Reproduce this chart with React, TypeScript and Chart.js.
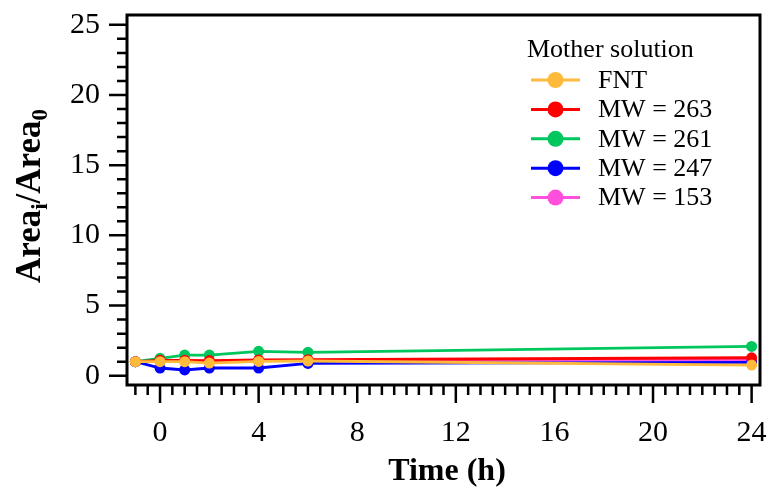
import React, { useEffect, useRef } from "react";
import { Chart, registerables } from "chart.js";

Chart.register(...registerables);

const timeH = [-1, 0, 1, 2, 4, 6, 24];
const seriesNames = ["FNT", "MW = 263", "MW = 261", "MW = 247", "MW = 153"];
const seriesColors = ["#FFBA3B", "#FF0000", "#00C65E", "#0000FF", "#FF4FDC"];
const fnt = [1.0, 1.0, 1.0, 0.9, 1.02, 1.05, 0.76];
const mw263 = [1.0, 1.1, 1.1, 1.08, 1.12, 1.14, 1.28];
const mw261 = [1.0, 1.24, 1.47, 1.47, 1.74, 1.67, 2.09];
const mw247 = [1.0, 0.55, 0.41, 0.55, 0.55, 0.88, 0.95];
const mw153 = [1.0, 1.06, 1.05, 1.02, 1.07, 1.1, 1.12];
const seriesValues = [fnt, mw263, mw261, mw247, mw153];

const xMajorTicks = [0, 4, 8, 12, 16, 20, 24];
const xMinorTicks = [-1, -0.5, 0.5, 1, 1.5, 2, 2.5, 3, 3.5, 4.5, 5, 5.5, 6, 6.5, 7, 7.5, 8.5, 9, 9.5, 10, 10.5, 11, 11.5, 12.5, 13, 13.5, 14, 14.5, 15, 15.5, 16.5, 17, 17.5, 18, 18.5, 19, 19.5, 20.5, 21, 21.5, 22, 22.5, 23, 23.5];
const yMajorTicks = [0, 5, 10, 15, 20, 25];
const yMinorTicks = [1, 2, 3, 4, 6, 7, 8, 9, 11, 12, 13, 14, 16, 17, 18, 19, 21, 22, 23, 24];

const legendTitle = "Mother solution";
const xTitle = "Time (h)";

const SERIF = "'Liberation Serif', 'Times New Roman', serif";

const decorPlugin = {
  id: "decor",
  afterDraw(chart: any) {
    const ctx = chart.ctx;
    const { left, right, top, bottom } = chart.chartArea;
    const xs = chart.scales.x;
    const ys = chart.scales.y;
    ctx.save();
    ctx.strokeStyle = "#000";
    ctx.lineWidth = 3;
    ctx.strokeRect(left, top, right - left, bottom - top);
    ctx.lineWidth = 2.5;
    ctx.beginPath();
    for (const v of xMajorTicks) {
      const px = xs.getPixelForValue(v);
      ctx.moveTo(px, bottom);
      ctx.lineTo(px, bottom + 18);
    }
    for (const v of xMinorTicks) {
      const px = xs.getPixelForValue(v);
      ctx.moveTo(px, bottom);
      ctx.lineTo(px, bottom + 10);
    }
    for (const v of yMajorTicks) {
      const py = ys.getPixelForValue(v);
      ctx.moveTo(left, py);
      ctx.lineTo(left - 18, py);
    }
    for (const v of yMinorTicks) {
      const py = ys.getPixelForValue(v);
      ctx.moveTo(left, py);
      ctx.lineTo(left - 10, py);
    }
    ctx.stroke();

    // x title
    ctx.fillStyle = "#000";
    ctx.font = `bold 32px ${SERIF}`;
    ctx.textAlign = "center";
    ctx.textBaseline = "middle";
    ctx.fillText(xTitle, 447, 472);

    // y title with subscripts
    const big = `bold 35px ${SERIF}`;
    const small = `bold 23px ${SERIF}`;
    const parts: [string, string, number][] = [
      ["Area", big, 0],
      ["i", small, 7],
      ["/Area", big, 0],
      ["0", small, 7],
    ];
    let total = 0;
    for (const [t, f] of parts) {
      ctx.font = f;
      total += ctx.measureText(t).width;
    }
    ctx.translate(40, 196);
    ctx.rotate(-Math.PI / 2);
    ctx.textAlign = "left";
    ctx.textBaseline = "alphabetic";
    let cx = -total / 2;
    for (const [t, f, dy] of parts) {
      ctx.font = f;
      ctx.fillText(t, cx, dy);
      cx += ctx.measureText(t).width;
    }
    ctx.setTransform(1, 0, 0, 1, 0, 0);

    // legend
    ctx.font = `26px ${SERIF}`;
    ctx.textAlign = "left";
    ctx.textBaseline = "middle";
    ctx.fillText(legendTitle, 527, 50);
    seriesNames.forEach((name, i) => {
      const y = 80 + i * 29.4;
      ctx.strokeStyle = seriesColors[i];
      ctx.lineWidth = 3;
      ctx.beginPath();
      ctx.moveTo(531, y);
      ctx.lineTo(580, y);
      ctx.stroke();
      ctx.fillStyle = seriesColors[i];
      ctx.beginPath();
      ctx.arc(555.5, y, 8, 0, Math.PI * 2);
      ctx.fill();
      ctx.fillStyle = "#000";
      ctx.fillText(name, 598, y + 1);
    });
    ctx.restore();
  },
};

export default function App() {
  const canvasRef = useRef<HTMLCanvasElement | null>(null);
  useEffect(() => {
    document.body.style.margin = "0";
    const canvas = canvasRef.current;
    if (!canvas) return;
    const zeroPad = (s: any) => {
      s.paddingTop = 0;
      s.paddingBottom = 0;
      s.paddingLeft = 0;
      s.paddingRight = 0;
    };
    const chart = new Chart(canvas, {
      type: "line",
      data: {
        datasets: seriesNames.map((name, i) => ({
          label: name,
          data: timeH.map((t, j) => ({ x: t, y: seriesValues[i][j] })),
          borderColor: seriesColors[i],
          backgroundColor: seriesColors[i],
          pointBackgroundColor: seriesColors[i],
          pointBorderColor: seriesColors[i],
          borderWidth: 2.8,
          pointRadius: 5.5,
          pointBorderWidth: 0,
          tension: 0,
          fill: false,
        })),
      },
      options: {
        animation: false,
        responsive: false,
        maintainAspectRatio: false,
        layout: { padding: { top: 15, right: 10, left: 0, bottom: 0 } },
        plugins: { legend: { display: false }, tooltip: { enabled: false } },
        scales: {
          x: {
            type: "linear",
            min: -1.34,
            max: 24.34,
            grid: { display: false, drawTicks: false },
            border: { display: false },
            afterBuildTicks: (s: any) => {
              s.ticks = xMajorTicks.map((v) => ({ value: v }));
            },
            afterFit: (s: any) => {
              s.height = 107;
              zeroPad(s);
            },
            ticks: {
              autoSkip: false,
              maxRotation: 0,
              padding: 30,
              color: "#000",
              font: { family: SERIF, size: 30 },
            },
          },
          y: {
            type: "linear",
            min: -0.66,
            max: 25.7,
            grid: { display: false, drawTicks: false },
            border: { display: false },
            afterBuildTicks: (s: any) => {
              s.ticks = yMajorTicks.map((v) => ({ value: v }));
            },
            afterFit: (s: any) => {
              s.width = 127;
              zeroPad(s);
            },
            ticks: {
              autoSkip: false,
              padding: 27,
              color: "#000",
              font: { family: SERIF, size: 30 },
            },
          },
        },
      },
      plugins: [decorPlugin],
    } as any);
    return () => chart.destroy();
  }, []);
  return <canvas ref={canvasRef} width={770} height={492} style={{ display: "block" }} />;
}
